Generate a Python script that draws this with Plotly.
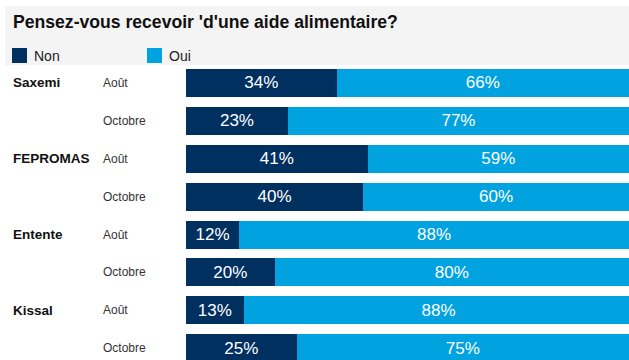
import plotly.graph_objects as go

W, H = 629, 360

title_text = "Pensez-vous recevoir 'd'une aide alimentaire?"
groups = ["Saxemi", "FEPROMAS", "Entente", "Kissal"]
periods = ["Août", "Octobre"]
series_names = ["Non", "Oui"]
non_vals = [34, 23, 41, 40, 12, 20, 13, 25]
oui_vals = [66, 77, 59, 60, 88, 80, 88, 75]

colors = {"Non": "#00305f", "Oui": "#00a3e0"}
FONT = "Liberation Sans, Arial, sans-serif"

rows = [f"{g} · {p}" for g in groups for p in periods]

fig = go.Figure()
for name, vals in zip(series_names, [non_vals, oui_vals]):
    fig.add_trace(go.Bar(
        y=rows, x=vals, orientation="h", name=name,
        marker=dict(color=colors[name], line=dict(width=0)),
        text=[f"{v}%" for v in vals], textposition="inside",
        insidetextanchor="middle",
        textfont=dict(family=FONT, size=17, color="#ffffff"),
        showlegend=False, hoverinfo="skip",
    ))

px = lambda v: v / W
py = lambda v: 1 - v / H

# Header background
fig.add_shape(type="rect", xref="paper", yref="paper",
              x0=px(5), x1=1.0, y0=py(65), y1=py(6),
              fillcolor="#f4f4f4", line=dict(width=0), layer="below")

annotations = [dict(
    text=f"<b>{title_text}</b>", xref="paper", yref="paper",
    x=px(11), y=py(22), xanchor="left", yanchor="middle", showarrow=False,
    font=dict(family=FONT, size=17.6, color="#111111"))]

# Legend (drawn)
leg_x = [12, 147]
for name, lx in zip(series_names, leg_x):
    fig.add_shape(type="rect", xref="paper", yref="paper",
                  x0=px(lx), x1=px(lx + 15), y0=py(63), y1=py(48),
                  fillcolor=colors[name], line=dict(width=0))
    annotations.append(dict(
        text=name, xref="paper", yref="paper", x=px(lx + 20), y=py(56),
        xanchor="left", yanchor="middle", showarrow=False,
        font=dict(family=FONT, size=14, color="#222222")))

for gi, g in enumerate(groups):
    annotations.append(dict(
        text=f"<b>{g}</b>", xref="paper", yref="y", x=px(11), y=rows[gi * 2],
        xanchor="left", yanchor="middle", showarrow=False,
        font=dict(family=FONT, size=13.5, color="#111111")))
    for pi, p in enumerate(periods):
        annotations.append(dict(
            text=p, xref="paper", yref="y", x=px(101), y=rows[gi * 2 + pi],
            xanchor="left", yanchor="middle", showarrow=False,
            font=dict(family=FONT, size=12, color="#333333")))

fig.update_layout(
    width=W, height=H, barmode="stack", bargap=0.26,
    margin=dict(l=0, r=0, t=0, b=0, pad=0),
    paper_bgcolor="#ffffff", plot_bgcolor="rgba(0,0,0,0)",
    xaxis=dict(domain=[px(186), 1.0], range=[0, 100], visible=False, fixedrange=True),
    yaxis=dict(type="category", categoryorder="array", categoryarray=rows,
               domain=[0, py(64)], range=[7.31, -0.5], visible=False, fixedrange=True),
    annotations=annotations,
    uniformtext=dict(mode=False),
    font=dict(family=FONT),
)

fig.write_html("out.html", config={"displayModeBar": False})
